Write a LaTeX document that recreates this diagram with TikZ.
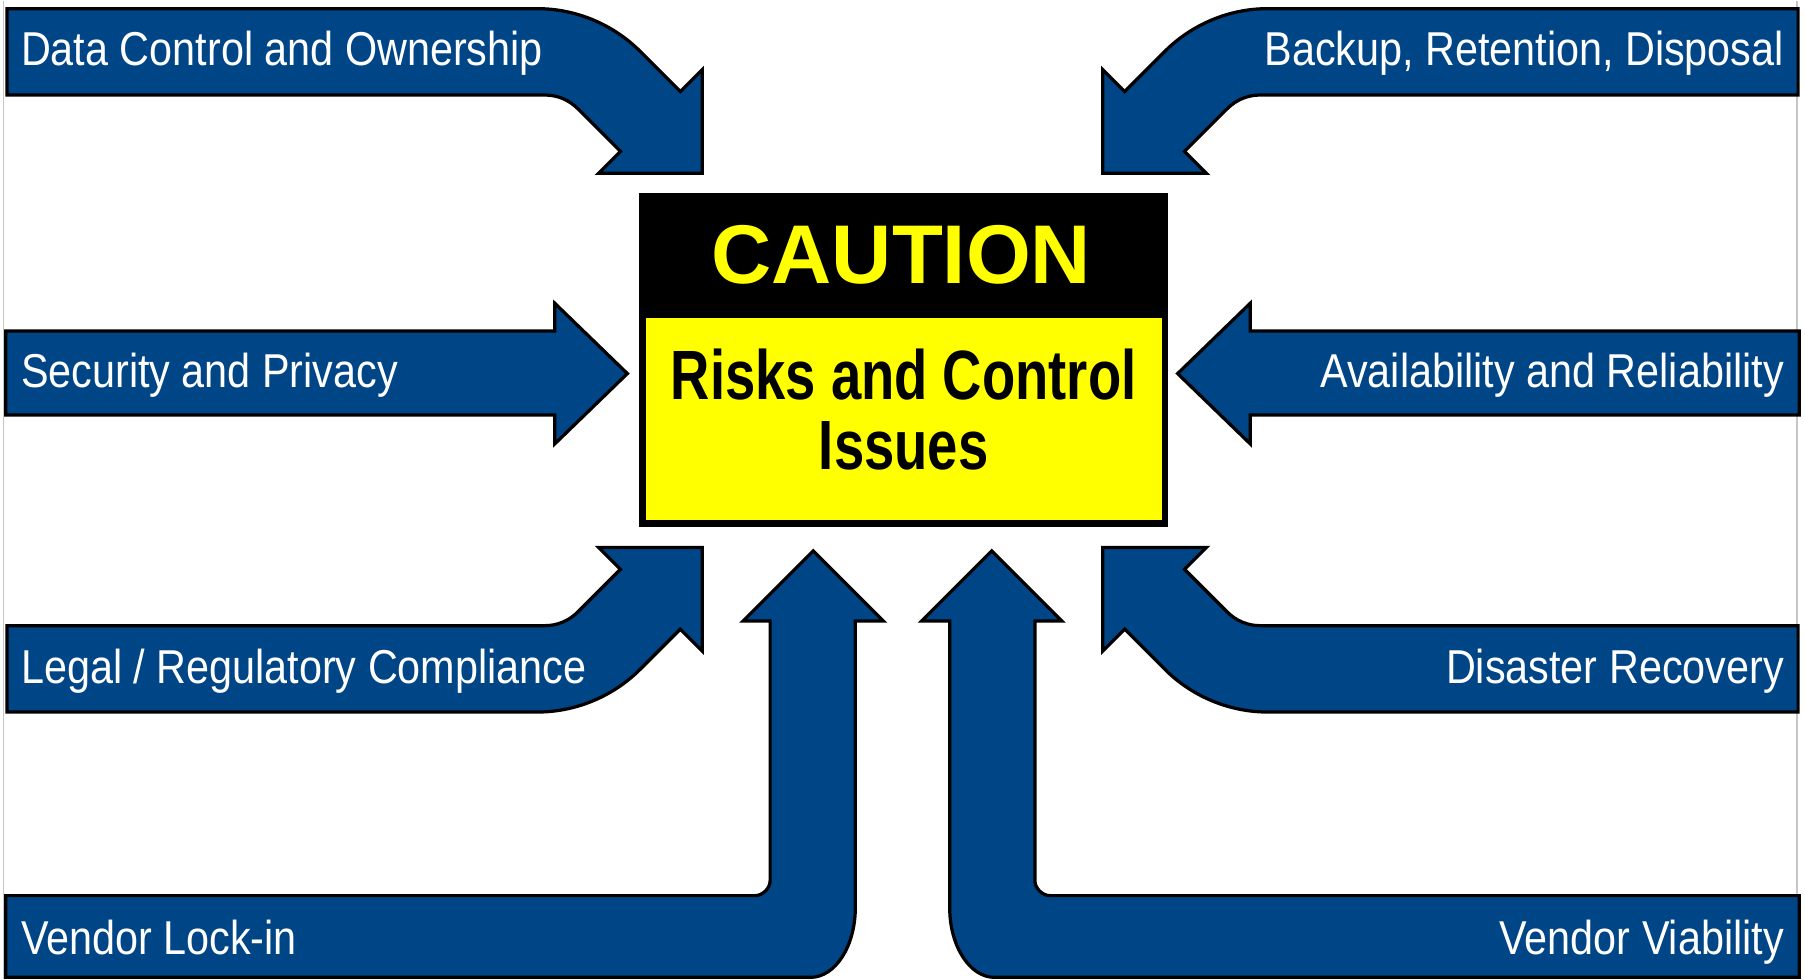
\documentclass[tikz,border=0pt]{standalone}
\usepackage{fontspec}
\setmainfont{Liberation Sans}
\newfontfamily\bandfont[FakeStretch=0.87]{Liberation Sans}
\newfontfamily\riskfont[FakeStretch=0.78]{Liberation Sans}
\usepackage{tikz}
\usetikzlibrary{calc}
\definecolor{bandblue}{RGB}{0,69,134}
\definecolor{signyellow}{RGB}{255,255,0}
\tikzstyle{band}     = [draw=black, line width=1.6pt, fill=bandblue, line join=miter]
\tikzstyle{bandtext} = [text=white, inner sep=0pt, font=\bandfont\fontsize{23.5}{27}\selectfont]
\tikzstyle{signtext} = [text=signyellow, inner sep=0pt, font=\bfseries\fontsize{41.2}{48}\selectfont]
\tikzstyle{risktext} = [text=black, inner sep=0pt, align=center, font=\riskfont\bfseries\fontsize{34.5}{34.7}\selectfont]
% the three arrow outlines, drawn for the lower right / left side
\newcommand{\bentarrow}{(1562,543) -- (1095,543) .. controls (1084,543) and (1074,539) .. (1066,531) -- (1029,494) -- (1048,475) -- (958,475) -- (958,565) -- (977,546) -- (1012,581) .. controls (1035.5,604.5) and (1068,618) .. (1101,618) -- (1562,618) -- cycle}
\newcommand{\sidearrow}{(5,287) -- (482,287) -- (482,263) -- (545,324) -- (482,385) -- (482,360) -- (5,360) -- cycle}
\newcommand{\risearrow}{(5,777.5) -- (656,777.5) .. controls (662,777.5) and (669,771.5) .. (669,764.5) -- (669,539) -- (645.5,539) -- (706.5,478) -- (767.5,539) -- (743,539) -- (743,788) .. controls (743,821.5) and (725.5,848.5) .. (704,848.5) -- (5,848.5) -- cycle}

\begin{document}
\begin{tikzpicture}[x=0.02cm, y=-0.02cm]
        \fill[white] (0,0) rectangle (1568,850);
        \draw[gray!45, line width=0.6pt] (3,0) -- (3,850);
        \draw[gray!45, line width=0.6pt] (1561,0) -- (1561,850);

        % bent arrows in the four corners
        \draw[band] \bentarrow;
        \begin{scope}[shift={(0,625)}, yscale=-1]
            \draw[band] \bentarrow;
        \end{scope}
        \begin{scope}[shift={(1568,0)}, xscale=-1]
            \draw[band] \bentarrow;
        \end{scope}
        \begin{scope}[shift={(1568,625)}, xscale=-1, yscale=-1]
            \draw[band] \bentarrow;
        \end{scope}

        % straight arrows
        \draw[band] \sidearrow;
        \begin{scope}[shift={(1568,0)}, xscale=-1]
            \draw[band] \sidearrow;
        \end{scope}
        \draw[band] \risearrow;
        \begin{scope}[shift={(1568,0)}, xscale=-1]
            \draw[band] \risearrow;
        \end{scope}

        % caution sign
        \fill[black] (555,167) rectangle (1015,457);
        \fill[signyellow] (561,276) rectangle (1009,451);
        \node[signtext, anchor=base] (caution) at (783,246) {CAUTION};
        \node[risktext] (issues) at (785,355) {Risks and Control\\Issues};

        \node[bandtext, anchor=base west] (dco) at (18,56) {Data Control and Ownership};
        \node[bandtext, anchor=base east] (brd) at (1550,56) {Backup, Retention, Disposal};
        \node[bandtext, anchor=base west] (sap) at (18,336) {Security and Privacy};
        \node[bandtext, anchor=base east] (aar) at (1550,336) {Availability and Reliability};
        \node[bandtext, anchor=base west] (lrc) at (18,593) {Legal / Regulatory Compliance};
        \node[bandtext, anchor=base east] (dis) at (1550,593) {Disaster Recovery};
        \node[bandtext, anchor=base west] (vli) at (18,829) {Vendor Lock-in};
        \node[bandtext, anchor=base east] (vvi) at (1550,829) {Vendor Viability};
    \end{tikzpicture}
\end{document}
